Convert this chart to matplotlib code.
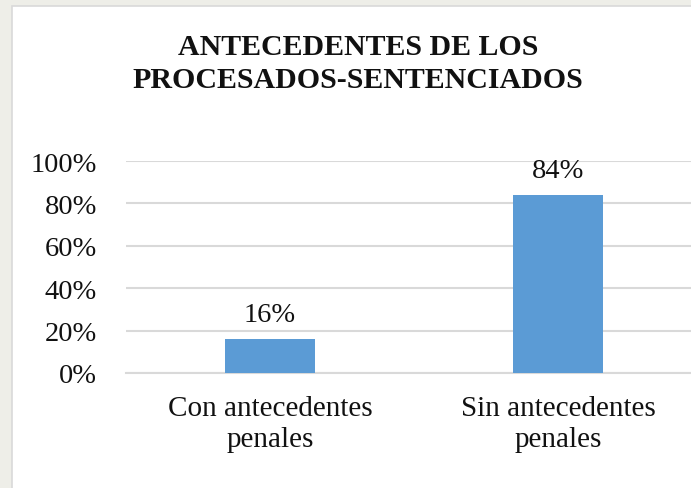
import matplotlib
matplotlib.use("Agg")
import matplotlib.pyplot as plt
from matplotlib.patches import Rectangle
from matplotlib.ticker import FuncFormatter

categories = ["Con antecedentes\npenales", "Sin antecedentes\npenales"]
values = [16, 84]
bar_labels = ["16%", "84%"]
yticks = [0, 20, 40, 60, 80, 100]
title = "ANTECEDENTES DE LOS\nPROCESADOS-SENTENCIADOS"

W, H = 691, 489
fig = plt.figure(figsize=(W / 100, H / 100), dpi=100)
fig.patch.set_facecolor("#eeeee8")
plt.rcParams["font.family"] = ["Liberation Serif", "DejaVu Serif"]

# chart area
fig.patches.append(Rectangle((12 / W, -0.01), 1.0, 1 - 7 / H + 0.01, transform=fig.transFigure,
                             facecolor="white", edgecolor="#d9d9d9", linewidth=1.2, zorder=-5))

ax = fig.add_axes([126 / W, (H - 374) / H, 576 / W, 212 / H])
ax.set_zorder(2)
ax.set_facecolor("none")
x = list(range(len(categories)))
ax.bar(x, values, width=0.313, color="#5b9bd5", zorder=3)
ax.set_xlim(-0.5, 1.5)
ax.set_ylim(0, 100)
ax.set_yticks(yticks)
ax.yaxis.set_major_formatter(FuncFormatter(lambda v, p: f"{int(v)}%"))
ax.set_xticks(x)
ax.set_xticklabels(categories, fontsize=21, linespacing=1.23)
ax.tick_params(axis="y", length=0, pad=21, labelsize=20.5, labelcolor="#111111")
ax.tick_params(axis="x", length=0, pad=16, labelcolor="#111111")
ax.grid(axis="y", color="#d9d9d9", linewidth=1.5, zorder=0)
for s in ["top", "right", "left"]:
    ax.spines[s].set_visible(False)
ax.spines["bottom"].set_color("#d9d9d9")
ax.spines["bottom"].set_linewidth(1.5)

for xi, v, lab in zip(x, values, bar_labels):
    ax.annotate(lab, (xi, v), xytext=(0, 13), textcoords="offset points",
                ha="center", va="baseline", fontsize=20.5, color="#111111")

fig.text(358 / W, 1 - 64 / H, title, ha="center", va="center", multialignment="center",
         fontsize=21.5, fontweight="bold", linespacing=1.3, color="#111111")

fig.savefig("out.png", dpi=100, facecolor=fig.get_facecolor())
